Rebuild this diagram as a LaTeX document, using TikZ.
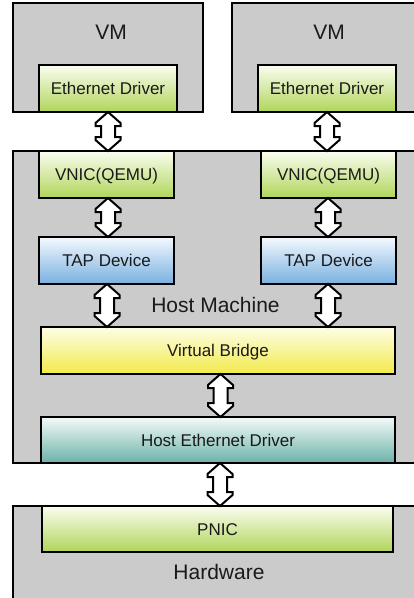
\documentclass[tikz,border=0pt]{standalone}
\usepackage{fontspec}
\setmainfont{Liberation Sans}
\usetikzlibrary{calc}
\definecolor{boxgray}{HTML}{CBCBCB}
\definecolor{gtop}{HTML}{FAFDF0}
\definecolor{gbot}{HTML}{B0D55A}
\definecolor{btop}{HTML}{F4F9FE}
\definecolor{bbot}{HTML}{79B0E0}
\definecolor{ytop}{HTML}{FEFEE8}
\definecolor{ybot}{HTML}{F2EA48}
\definecolor{ttop}{HTML}{F3FAF9}
\definecolor{tbot}{HTML}{6CB2A9}
\definecolor{txt}{HTML}{1A1A1A}
\tikzset{
  container/.style={draw=black, line width=1.3pt, fill=boxgray, anchor=north west, inner sep=0pt, outer sep=0pt},
  comp/.style={draw=black, line width=1.3pt, anchor=north west, inner sep=0pt, outer sep=0pt,
    font=\fontsize{17}{20}\selectfont, text=txt, text height=12.3pt, text depth=0pt},
  greenbox/.style={comp, top color=gtop, bottom color=gbot},
  bluebox/.style={comp, top color=btop, bottom color=bbot},
  yellowbox/.style={comp, top color=ytop, bottom color=ybot},
  tealbox/.style={comp, top color=ttop, bottom color=tbot},
  biglabel/.style={font=\fontsize{21}{24}\selectfont, text=txt, anchor=base, inner sep=0pt},
  dblarr/.style={draw=black, fill=white, line width=2pt, line join=miter},
}
\newcommand\dblarrow[2]{\draw[dblarr] let \p1=(#1), \p2=(#2) in
  (\x1,\y1) -- (\x1+12.5pt,\y1-11pt) -- (\x1+12.5pt,\y1-14pt) -- (\x1+7pt,\y1-14pt)
  -- (\x1+7pt,\y2+14pt) -- (\x1+12.5pt,\y2+14pt) -- (\x1+12.5pt,\y2+11pt) -- (\x1,\y2)
  -- (\x1-12.5pt,\y2+11pt) -- (\x1-12.5pt,\y2+14pt) -- (\x1-7pt,\y2+14pt)
  -- (\x1-7pt,\y1-14pt) -- (\x1-12.5pt,\y1-14pt) -- (\x1-12.5pt,\y1-11pt) -- cycle;}
\begin{document}
\begin{tikzpicture}[x=1pt,y=-1pt]
\useasboundingbox[fill=white] (0,0) rectangle (414,598);
% containers
\node[container, minimum width=190pt, minimum height=109pt] (vmL) at (13,3) {};
\node[container, minimum width=186pt, minimum height=109pt] (vmR) at (232,3) {};
\node[container, minimum width=405pt, minimum height=312pt] (host) at (13,151) {};
\node[container, minimum width=405pt, minimum height=96pt] (hw) at (13,506) {};
% labels
\node[biglabel] (vmLlab) at (111,39) {VM};
\node[biglabel] (vmRlab) at (329,39) {VM};
\node[biglabel] (hostlab) at (215.5,312) {Host Machine};
\node[biglabel] (hwlab) at (219,579) {Hardware};
% components
\node[greenbox, minimum width=138pt, minimum height=47pt] (ethL) at (39,65) {Ethernet Driver};
\node[greenbox, minimum width=138pt, minimum height=47pt] (ethR) at (258,65) {Ethernet Driver};
\node[greenbox, minimum width=135pt, minimum height=47pt] (vnicL) at (39,151) {VNIC(QEMU)};
\node[greenbox, minimum width=135pt, minimum height=47pt] (vnicR) at (261,151) {VNIC(QEMU)};
\node[bluebox, minimum width=135pt, minimum height=47pt] (tapL) at (39,237) {TAP Device};
\node[bluebox, minimum width=135pt, minimum height=47pt] (tapR) at (261,237) {TAP Device};
\node[yellowbox, minimum width=354pt, minimum height=47pt] (bridge) at (41,327) {Virtual Bridge};
\node[tealbox, minimum width=354pt, minimum height=46pt] (hed) at (41,417) {Host Ethernet Driver};
\node[greenbox, minimum width=351pt, minimum height=46pt] (pnic) at (42,506) {PNIC};
% arrows
\dblarrow{ethL.south}{vnicL.north}
\dblarrow{ethR.south}{vnicR.north}
\dblarrow{$(vnicL.south)+(1.5,0)$}{tapL.north}
\dblarrow{$(vnicR.south)+(-0.5,0)$}{tapR.north}
\dblarrow{$(tapL.south)+(0.5,0)$}{bridge.north}
\dblarrow{$(tapR.south)+(-0.5,0)$}{bridge.north}
\dblarrow{$(bridge.south)+(2.5,0)$}{hed.north}
\dblarrow{$(hed.south)+(2,0)$}{pnic.north}
\end{tikzpicture}
\end{document}
